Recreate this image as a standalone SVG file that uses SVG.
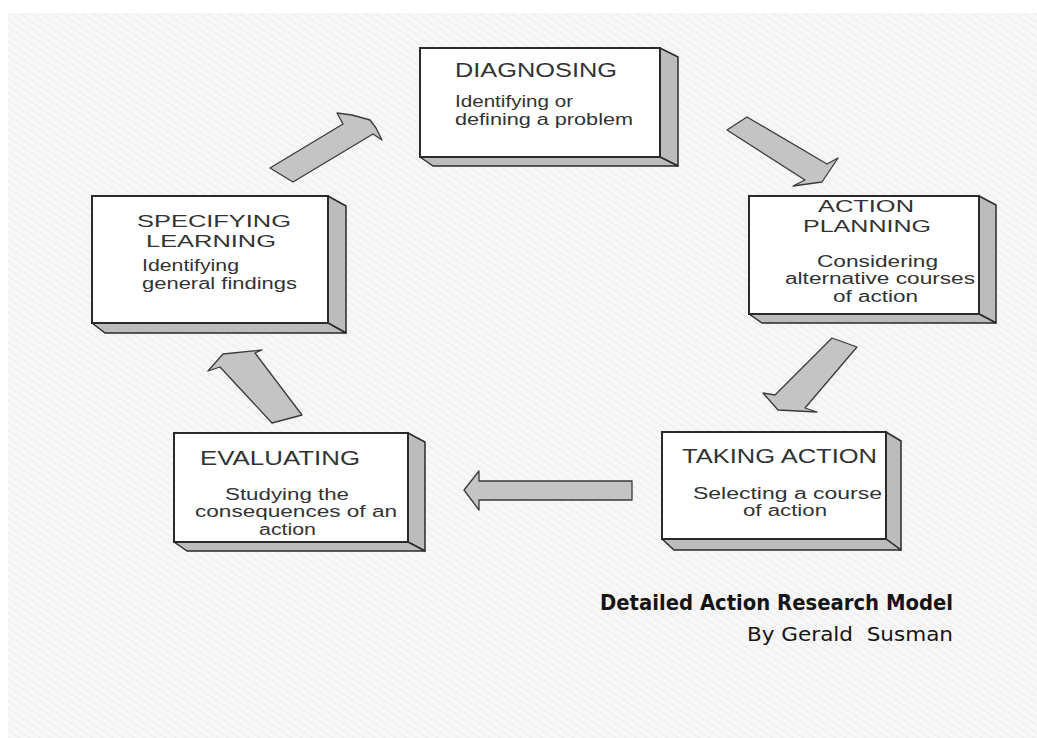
<svg xmlns="http://www.w3.org/2000/svg" width="1037" height="738" viewBox="0 0 1037 738">
<defs>
<pattern id="hatch" width="6" height="6" patternUnits="userSpaceOnUse" patternTransform="rotate(-55)">
<rect width="6" height="6" fill="#f7f7f7"/>
<line x1="0" y1="0" x2="0" y2="6" stroke="#ececec" stroke-width="2"/>
</pattern>
<style>
.front{fill:#ffffff;stroke:#2a2a2a;stroke-width:2}
.face{fill:#bcbcbc;stroke:#2a2a2a;stroke-width:1.5;stroke-linejoin:round}
.arrow{fill:#c4c4c4;stroke:#3a3a3a;stroke-width:1.3;stroke-linejoin:round}
.t{font-family:"Liberation Sans",Arial,sans-serif;fill:#333333}
.title{font-size:20px}
.title2{font-size:17px}
.sub{font-size:16px}
.cap{font-family:"DejaVu Sans","Liberation Sans",sans-serif;fill:#151515}
</style>
</defs>
<rect x="0" y="0" width="1037" height="738" fill="#ffffff"/>
<rect x="8" y="13" width="1029" height="725" fill="url(#hatch)"/>

<g id="connectors">
<polygon class="arrow" points="270,168 343,124 337,113 352,115 370,120 376,128 382,140 373,134 293,182"/>
<polygon class="arrow" points="727,130 747,117 827,164 838,158 830,170 822,182 793,186 805,180"/>
<polygon class="arrow" points="832,338 857,347 805,408 817,412 778,410 763,393 775,395"/>
<polygon class="arrow" points="632,481 632,500 479,500 479,510 464,490 479,471 479,481"/>
<polygon class="arrow" points="272,423 302,415 255,353 262,350 223,354 208,371 220,367"/>
</g>

<g id="diagnosing">
<polygon class="face" points="660,48 678,57 678,166 660,157"/>
<polygon class="face" points="420,157 660,157 678,166 433,166"/>
<rect class="front" x="420" y="48" width="240" height="109"/>
<text class="t title" x="455" y="77" textLength="162" lengthAdjust="spacingAndGlyphs">DIAGNOSING</text>
<text class="t sub" x="455" y="107" textLength="118" lengthAdjust="spacingAndGlyphs">Identifying or</text>
<text class="t sub" x="455" y="125" textLength="178" lengthAdjust="spacingAndGlyphs">defining a problem</text>
</g>

<g id="specifying-learning">
<polygon class="face" points="328,196 346,206 346,333 328,323"/>
<polygon class="face" points="92,323 328,323 346,333 105,333"/>
<rect class="front" x="92" y="196" width="236" height="127"/>
<text class="t title2" x="137" y="227" textLength="154" lengthAdjust="spacingAndGlyphs">SPECIFYING</text>
<text class="t title2" x="146" y="247" textLength="130" lengthAdjust="spacingAndGlyphs">LEARNING</text>
<text class="t sub" x="142" y="271" textLength="97" lengthAdjust="spacingAndGlyphs">Identifying</text>
<text class="t sub" x="142" y="289" textLength="155" lengthAdjust="spacingAndGlyphs">general findings</text>
</g>

<g id="action-planning">
<polygon class="face" points="979,196 996,205 996,323 979,314"/>
<polygon class="face" points="749,314 979,314 996,323 762,323"/>
<rect class="front" x="749" y="196" width="230" height="118"/>
<text class="t title2" x="818" y="212" textLength="96" lengthAdjust="spacingAndGlyphs">ACTION</text>
<text class="t title2" x="803" y="232" textLength="128" lengthAdjust="spacingAndGlyphs">PLANNING</text>
<text class="t sub" x="817" y="267" textLength="121" lengthAdjust="spacingAndGlyphs">Considering</text>
<text class="t sub" x="785" y="284" textLength="190" lengthAdjust="spacingAndGlyphs">alternative courses</text>
<text class="t sub" x="833" y="302" textLength="85" lengthAdjust="spacingAndGlyphs">of action</text>
</g>

<g id="evaluating">
<polygon class="face" points="408,433 425,442 425,551 408,542"/>
<polygon class="face" points="174,542 408,542 425,551 187,551"/>
<rect class="front" x="174" y="433" width="234" height="109"/>
<text class="t title" x="200" y="465" textLength="160" lengthAdjust="spacingAndGlyphs">EVALUATING</text>
<text class="t sub" x="225" y="500" textLength="124" lengthAdjust="spacingAndGlyphs">Studying the</text>
<text class="t sub" x="195" y="517" textLength="202" lengthAdjust="spacingAndGlyphs">consequences of an</text>
<text class="t sub" x="259" y="535" textLength="57" lengthAdjust="spacingAndGlyphs">action</text>
</g>

<g id="taking-action">
<polygon class="face" points="886,432 901,441 901,550 886,539"/>
<polygon class="face" points="662,539 886,539 901,550 674,550"/>
<rect class="front" x="662" y="432" width="224" height="107"/>
<text class="t title" x="682" y="463" textLength="195" lengthAdjust="spacingAndGlyphs">TAKING ACTION</text>
<text class="t sub" x="693" y="499" textLength="189" lengthAdjust="spacingAndGlyphs">Selecting a course</text>
<text class="t sub" x="743" y="516" textLength="84" lengthAdjust="spacingAndGlyphs">of action</text>
</g>

<g id="caption">
<text class="cap" x="600" y="610" font-size="22" font-weight="bold" textLength="353" lengthAdjust="spacingAndGlyphs">Detailed Action Research Model</text>
<text class="cap" x="747" y="641" font-size="20" fill="#222222" xml:space="preserve" style="white-space:pre" textLength="206" lengthAdjust="spacingAndGlyphs">By Gerald  Susman</text>
</g>
</svg>
